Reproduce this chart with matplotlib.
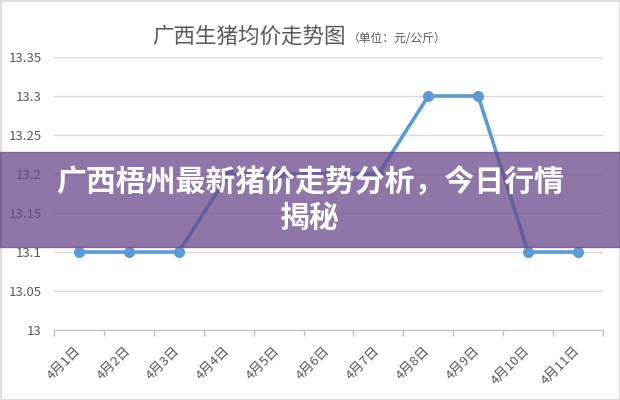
import matplotlib
matplotlib.use('Agg')
import matplotlib.pyplot as plt
from matplotlib.patches import Rectangle
from matplotlib.transforms import ScaledTranslation

plt.rcParams['font.family'] = ['Noto Sans CJK SC', 'DejaVu Sans']

# 数据
dates = ['4月1日', '4月2日', '4月3日', '4月4日', '4月5日', '4月6日',
         '4月7日', '4月8日', '4月9日', '4月10日', '4月11日']
prices = [13.1, 13.1, 13.1, 13.2, 13.2, 13.2, 13.2, 13.3, 13.3, 13.1, 13.1]
yticks = [13.0, 13.05, 13.1, 13.15, 13.2, 13.25, 13.3, 13.35]
ytick_labels = ['13', '13.05', '13.1', '13.15', '13.2', '13.25', '13.3', '13.35']

W, H = 620, 400
fig = plt.figure(figsize=(W / 100, H / 100), dpi=100)
ax = fig.add_axes([54 / W, 1 - 330 / H, (603 - 54) / W, (330 - 57) / H])

x = list(range(len(dates)))
ax.plot(x, prices, color='#5B9BD5', lw=2.6, marker='o', ms=7, zorder=3)

ax.set_xlim(-0.5, len(dates) - 0.5)
ax.set_ylim(13.0, 13.35)
ax.set_yticks(yticks)
ax.set_yticklabels(ytick_labels)
ax.set_xticks(x)
ax.set_xticklabels(dates, rotation=45, ha='right', va='top')
ax.set_xticks([i - 0.5 for i in range(len(dates) + 1)], minor=True)

ax.tick_params(axis='x', which='major', length=0, pad=10, labelsize=9.5, colors='#595959')
ax.tick_params(axis='x', which='minor', length=4, color='#BFBFBF', width=1)
ax.tick_params(axis='y', length=0, pad=9, labelsize=9.5, colors='#595959')
# 标签向右稍移
for lbl in ax.get_xticklabels():
    lbl.set_transform(lbl.get_transform() + ScaledTranslation(4 / 100, 0, fig.dpi_scale_trans))

ax.grid(axis='y', color='#D9D9D9', lw=1)
ax.set_axisbelow(True)
for s in ['top', 'right', 'left']:
    ax.spines[s].set_visible(False)
ax.spines['bottom'].set_color('#BFBFBF')
ax.spines['bottom'].set_zorder(1)

# 标题
fig.text(152 / W, 1 - 37 / H, '广西生猪均价走势图', fontsize=15.5, color='#595959',
         fontweight='light', ha='left', va='center')
fig.text(348 / W, 1 - 38 / H, '（单位：元/公斤）', fontsize=8.5, color='#595959',
         fontweight='light', ha='left', va='center')

# 外框
fig.patches.append(Rectangle((0.5 / W, 0.5 / H), 1 - 1 / W, 1 - 1 / H, transform=fig.transFigure,
                             fill=False, ec='#D9D9D9', lw=1.2))

# 横幅
fig.patches.append(Rectangle((0, 1 - 247 / H), 1, 95 / H, transform=fig.transFigure,
                             color='#69488B', alpha=0.75, zorder=5))
fig.text(0.5, 1 - 200 / H, '广西梧州最新猪价走势分析，今日行情\n揭秘', fontsize=21.5,
         fontweight='black', color='white', ha='center', va='center',
         linespacing=1.25, zorder=6)

fig.savefig('out.png', dpi=100)
